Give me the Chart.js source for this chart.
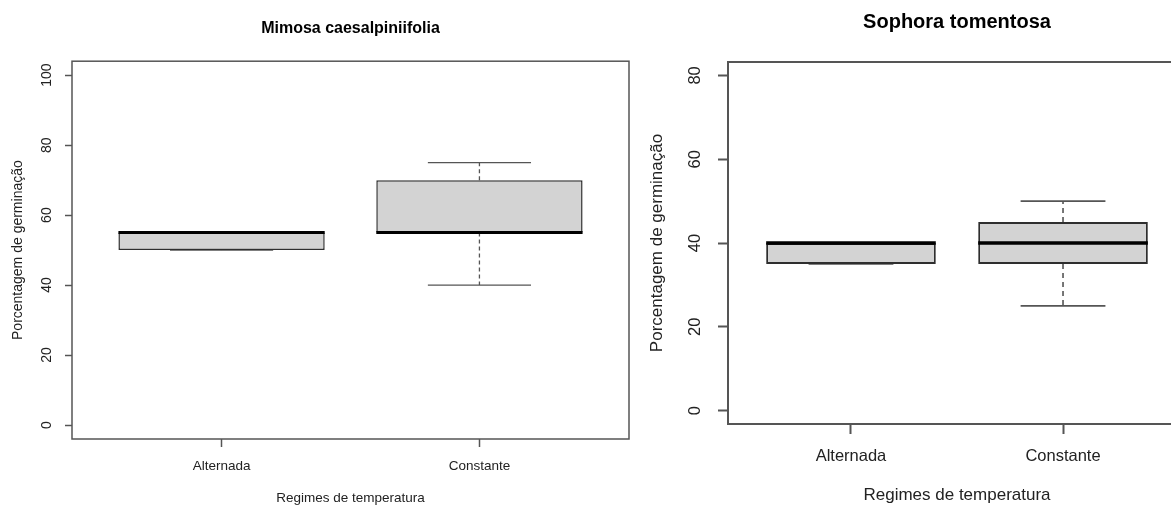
<!DOCTYPE html>
<html>
<head>
<meta charset="utf-8">
<script src="https://cdn.jsdelivr.net/npm/chart.js@4.4.1/dist/chart.umd.min.js"></script>
<style>
  html, body { margin: 0; padding: 0; background: #fff; overflow: hidden; width: 1171px; height: 506px; }
  #mimosa { position: absolute; left: 0; top: 0; }
  #sophora { position: absolute; left: 640px; top: 0; }
</style>
</head>
<body>
<canvas id="mimosa" width="640" height="506"></canvas>
<canvas id="sophora" width="560" height="506"></canvas>
<script>
var categories = ['Alternada', 'Constante'];

// Mimosa caesalpiniifolia
var mimosaMin = [50, 40];
var mimosaQ1 = [50, 55];
var mimosaMedian = [55, 55];
var mimosaQ3 = [55, 70];
var mimosaMax = [55, 75];
var mimosaTicks = [0, 20, 40, 60, 80, 100];

// Sophora tomentosa
var sophoraMin = [35, 25];
var sophoraQ1 = [35, 35];
var sophoraMedian = [40, 40];
var sophoraQ3 = [40, 45];
var sophoraMax = [40, 50];
var sophoraTicks = [0, 20, 40, 60, 80];

var FONT = "'Liberation Sans', Arial, sans-serif";

function hline(ctx, x1, x2, y) {
    ctx.beginPath(); ctx.moveTo(x1, y); ctx.lineTo(x2, y); ctx.stroke();
}
function vline(ctx, x, y1, y2) {
    ctx.beginPath(); ctx.moveTo(x, y1); ctx.lineTo(x, y2); ctx.stroke();
}

// whiskers under the boxes, medians and frame on top (R boxplot look)
var boxplotPlugin = {
    id: 'boxplot',
    beforeDatasetsDraw: function(chart, args, opts) {
        var ctx = chart.ctx, y = chart.scales.y;
        var ds = chart.data.datasets[0];
        ctx.save();
        ctx.strokeStyle = opts.whiskerColor;
        ctx.lineWidth = opts.whiskerWidth;
        chart.getDatasetMeta(0).data.forEach(function(bar, i) {
            var cx = bar.x, cap = bar.width / 4;
            ctx.setLineDash(opts.dash);
            vline(ctx, cx, y.getPixelForValue(ds.q3[i]), y.getPixelForValue(ds.max[i]));
            vline(ctx, cx, y.getPixelForValue(ds.q1[i]), y.getPixelForValue(ds.min[i]));
            ctx.setLineDash([]);
            hline(ctx, cx - cap, cx + cap, y.getPixelForValue(ds.max[i]));
            hline(ctx, cx - cap, cx + cap, y.getPixelForValue(ds.min[i]));
        });
        ctx.restore();
    },
    afterDatasetsDraw: function(chart, args, opts) {
        var ctx = chart.ctx, y = chart.scales.y;
        var ds = chart.data.datasets[0];
        ctx.save();
        ctx.strokeStyle = '#000';
        ctx.lineWidth = opts.medianWidth;
        chart.getDatasetMeta(0).data.forEach(function(bar, i) {
            var half = bar.width / 2;
            hline(ctx, bar.x - half, bar.x + half, y.getPixelForValue(ds.median[i]));
        });
        var a = chart.chartArea;
        ctx.strokeStyle = opts.frameColor;
        ctx.lineWidth = opts.frameWidth;
        ctx.strokeRect(a.left, a.top, a.right - a.left, a.bottom - a.top);
        ctx.restore();
    }
};

function boxChart(id, s) {
    var ctx = document.getElementById(id).getContext('2d');
    var lo = s.ticks[0], hi = s.ticks[s.ticks.length - 1];
    var ext = (hi - lo) * 0.04;
    var xlo = 0.5 - categories.length * 0.04, xhi = categories.length + 0.5 + categories.length * 0.04;

    return new Chart(ctx, {
        type: 'bar',
        data: {
            datasets: [{
                data: categories.map(function(c, i) { return {x: i + 1, y: [s.q1[i], s.q3[i]]}; }),
                min: s.min, q1: s.q1, median: s.median, q3: s.q3, max: s.max,
                backgroundColor: '#d3d3d3',
                borderColor: '#2e2e2e',
                borderWidth: s.boxLine,
                borderSkipped: false,
                barPercentage: 0.8,
                categoryPercentage: 1
            }]
        },
        options: {
            responsive: false,
            animation: false,
            events: [],
            layout: { padding: { left: 0, right: s.padRight, top: 0, bottom: 0 } },
            plugins: {
                legend: { display: false },
                tooltip: { enabled: false },
                title: {
                    display: true,
                    text: s.title,
                    fullSize: false,
                    color: '#000',
                    font: { family: FONT, size: s.titleSize, weight: 'bold' },
                    padding: { top: s.titleTop, bottom: s.titleBottom }
                },
                boxplot: {
                    whiskerColor: '#555',
                    whiskerWidth: s.whiskerWidth,
                    dash: s.dash,
                    medianWidth: s.medianWidth,
                    frameColor: '#555',
                    frameWidth: s.frameWidth
                }
            },
            scales: {
                x: {
                    type: 'linear',
                    min: xlo,
                    max: xhi,
                    offset: false,
                    afterBuildTicks: function(scale) {
                        scale.ticks = categories.map(function(c, i) { return {value: i + 1}; });
                    },
                    afterFit: function(scale) { scale.height = s.xHeight; },
                    ticks: {
                        callback: function(v) { return categories[v - 1]; },
                        color: '#222',
                        font: { family: FONT, size: s.labelSize },
                        padding: s.xPad,
                        maxRotation: 0
                    },
                    grid: { offset: false, drawOnChartArea: false, tickLength: s.xTick, tickColor: '#555', tickWidth: s.frameWidth },
                    border: { display: false },
                    title: {
                        display: true,
                        text: 'Regimes de temperatura',
                        color: '#222',
                        font: { family: FONT, size: s.axisTitleSize },
                        padding: { top: 0, bottom: s.xTitleBottom }
                    }
                },
                y: {
                    min: lo - ext,
                    max: hi + ext,
                    afterBuildTicks: function(scale) {
                        scale.ticks = s.ticks.map(function(v) { return {value: v}; });
                    },
                    afterFit: function(scale) { scale.width = s.yWidth; },
                    ticks: {
                        color: '#222',
                        font: { family: FONT, size: s.yLabelSize },
                        minRotation: 90,
                        maxRotation: 90,
                        crossAlign: 'center',
                        padding: s.yPad
                    },
                    grid: { drawOnChartArea: false, tickLength: s.yTick, tickColor: '#555', tickWidth: s.frameWidth },
                    border: { display: false },
                    title: {
                        display: true,
                        text: 'Porcentagem de germinação',
                        color: '#222',
                        font: { family: FONT, size: s.yTitleSize },
                        padding: { top: s.yTitleTop, bottom: 0 }
                    }
                }
            }
        },
        plugins: [boxplotPlugin]
    });
}

boxChart('mimosa', {
    title: 'Mimosa caesalpiniifolia',
    min: mimosaMin, q1: mimosaQ1, median: mimosaMedian, q3: mimosaQ3, max: mimosaMax,
    ticks: mimosaTicks,
    padRight: 11, yWidth: 72, xHeight: 67,
    titleSize: 16, titleTop: 19, titleBottom: 23,
    labelSize: 13.5, axisTitleSize: 13.5, yLabelSize: 14, yTitleSize: 14,
    xPad: 11, xTick: 8, yTick: 7, yPad: 6, yTitleTop: 10, xTitleBottom: 0,
    boxLine: 1.5, medianWidth: 3, whiskerWidth: 1.3, frameWidth: 1.5, dash: [4, 3]
});

boxChart('sophora', {
    title: 'Sophora tomentosa',
    min: sophoraMin, q1: sophoraQ1, median: sophoraMedian, q3: sophoraQ3, max: sophoraMax,
    ticks: sophoraTicks,
    padRight: 14, yWidth: 88, xHeight: 82,
    titleSize: 20, titleTop: 10, titleBottom: 28,
    labelSize: 16.5, axisTitleSize: 17, yLabelSize: 16.5, yTitleSize: 17,
    xPad: 13, xTick: 10, yTick: 10, yPad: 13, yTitleTop: 7, xTitleBottom: 0,
    boxLine: 2, medianWidth: 3.5, whiskerWidth: 1.6, frameWidth: 2, dash: [5, 4]
});
</script>
</body>
</html>
